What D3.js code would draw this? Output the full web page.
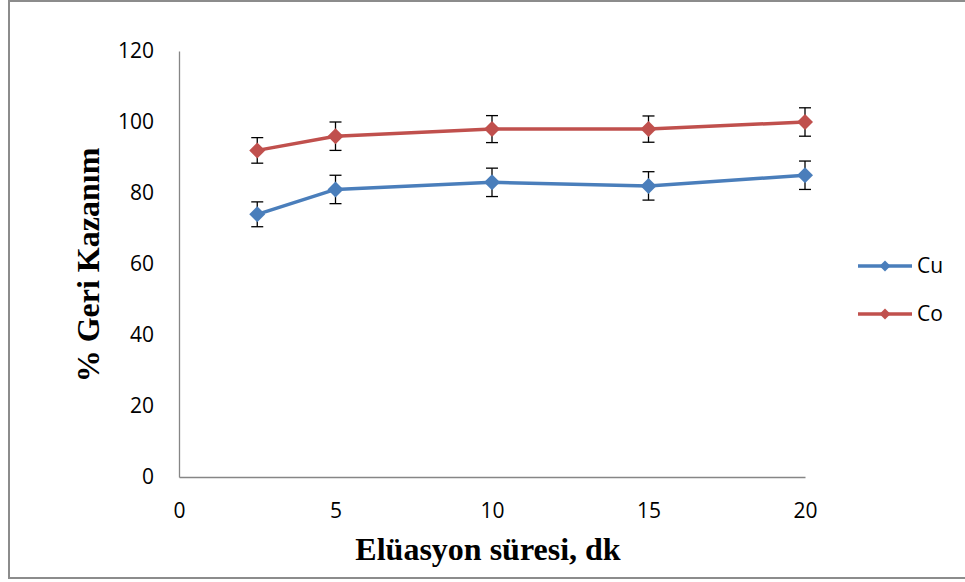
<!DOCTYPE html>
<html>
<head>
<meta charset="utf-8">
<script src="https://cdn.jsdelivr.net/npm/d3@7"></script>
<style>
  body { margin: 0; background: #fff; }
</style>
</head>
<body>
<svg id="chart" width="965" height="582"></svg>
<script>
// values
let times = [2.5, 5, 10, 15, 20];
let cuValues = [74, 81, 83, 82, 85];
let cuErrors = [3.5, 4, 4, 4, 4];
let coValues = [92, 96, 98, 98, 100];
let coErrors = [3.6, 4, 3.8, 3.7, 4];
let xTicks = [0, 5, 10, 15, 20];
let yTicks = [0, 20, 40, 60, 80, 100, 120];
let seriesNames = ["Cu", "Co"];
let seriesColors = ["#4a7ebb", "#c0504d"];

let svg = d3.select("#chart");

// outer frame
svg.append("rect")
    .attr("x", 9).attr("y", 1)
    .attr("width", 970).attr("height", 577)
    .attr("fill", "none")
    .attr("stroke", "#8c8c8c")
    .attr("stroke-width", 2);

let x = d3.scaleLinear().domain([0, 20]).range([179, 805]);
let y = d3.scaleLinear().domain([0, 120]).range([477, 51]);

let xAxis = d3.axisBottom(x).tickValues(xTicks).tickSize(0).tickPadding(26);
let yAxis = d3.axisLeft(y).tickValues(yTicks).tickSize(0).tickPadding(25);

let gx = svg.append("g").attr("transform", "translate(0,477)").call(xAxis);
let gy = svg.append("g").attr("transform", "translate(179,0)").call(yAxis);

[gx, gy].forEach(g => {
    g.select(".domain").attr("stroke", "#868686").attr("stroke-width", 1.3);
    g.selectAll("text")
        .attr("font-family", "'Open Sans', sans-serif")
        .attr("font-size", 21)
        .attr("fill", "#000");
});
gx.selectAll("text").attr("dy", "0.71em");

// axis titles
svg.append("text")
    .attr("x", 488).attr("y", 560)
    .attr("text-anchor", "middle")
    .attr("font-family", "'Liberation Serif', serif")
    .attr("font-weight", "bold")
    .attr("font-size", 32)
    .text("Elüasyon süresi, dk");

svg.append("text")
    .attr("transform", "translate(99,265) rotate(-90)")
    .attr("text-anchor", "middle")
    .attr("font-family", "'Liberation Serif', serif")
    .attr("font-weight", "bold")
    .attr("font-size", 32)
    .text("% Geri Kazanım");

let series = [
    {name: seriesNames[0], color: seriesColors[0], values: cuValues, errors: cuErrors},
    {name: seriesNames[1], color: seriesColors[1], values: coValues, errors: coErrors}
];

let line = d3.line()
    .x(d => x(d.t))
    .y(d => y(d.v));

// diamond = square turned 45 degrees
let marker = d3.symbol().type(d3.symbolSquare).size(128);

series.forEach(s => {
    let pts = times.map((t, i) => ({t: t, v: s.values[i], e: s.errors[i]}));

    svg.append("path")
        .datum(pts)
        .attr("d", line)
        .attr("fill", "none")
        .attr("stroke", s.color)
        .attr("stroke-width", 3.5)
        .attr("stroke-linejoin", "round");

    // error bars
    let eb = svg.append("g").attr("stroke", "#000").attr("stroke-width", 1.3);
    pts.forEach(p => {
        let cx = x(p.t);
        eb.append("line").attr("x1", cx).attr("x2", cx)
            .attr("y1", y(p.v + p.e)).attr("y2", y(p.v - p.e));
        eb.append("line").attr("x1", cx - 6).attr("x2", cx + 6)
            .attr("y1", y(p.v + p.e)).attr("y2", y(p.v + p.e));
        eb.append("line").attr("x1", cx - 6).attr("x2", cx + 6)
            .attr("y1", y(p.v - p.e)).attr("y2", y(p.v - p.e));
    });

    svg.selectAll(null)
        .data(pts)
        .enter()
        .append("path")
        .attr("d", marker)
        .attr("transform", d => "translate(" + x(d.t) + "," + y(d.v) + ") rotate(45)")
        .attr("fill", s.color);
});

// legend
series.forEach((s, i) => {
    let ly = 266 + i * 48;
    let g = svg.append("g");
    g.append("line")
        .attr("x1", 858).attr("x2", 912)
        .attr("y1", ly).attr("y2", ly)
        .attr("stroke", s.color).attr("stroke-width", 3.5);
    g.append("path")
        .attr("d", d3.symbol().type(d3.symbolSquare).size(60))
        .attr("transform", "translate(885," + ly + ") rotate(45)")
        .attr("fill", s.color);
    g.append("text")
        .attr("x", 917).attr("y", ly)
        .attr("dy", "0.35em")
        .attr("font-family", "'Open Sans', sans-serif")
        .attr("font-size", 21)
        .attr("fill", "#000")
        .text(s.name);
});
</script>
</body>
</html>
